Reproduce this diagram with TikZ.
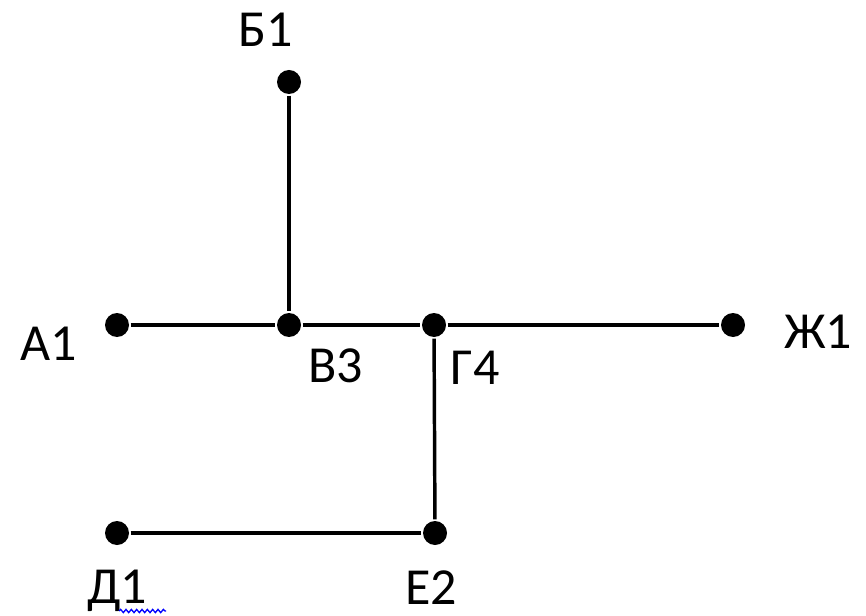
\documentclass[tikz,border=0pt]{standalone}
\usepackage{fontspec}
\setmainfont{Carlito}
\usetikzlibrary{decorations.pathmorphing}

\tikzset{
    pt/.style={circle, fill=black, inner sep=0pt, minimum size=18pt},
    lbl/.style={font=\fontsize{39}{46}\selectfont, inner sep=0pt}
}

\begin{document}
\begin{tikzpicture}[x=0.75pt, y=-0.75pt, line width=2.6pt]
    \useasboundingbox (0,0) rectangle (866,616);
    % vertices
    \node[pt] (a) at (117,325) {};
    \node[pt] (b) at (289,82) {};
    \node[pt] (v) at (289,325) {};
    \node[pt] (g) at (434,325) {};
    \node[pt] (zh) at (733,325) {};
    \node[pt] (d) at (117,533) {};
    \node[pt] (e) at (435,533) {};
    % edges
    \draw (a) -- (v);
    \draw (v) -- (g);
    \draw (g) -- (zh);
    \draw (b) -- (v);
    \draw (g) -- (e);
    \draw (d) -- (e);
    % labels
    \node[lbl] (la) at (49,344) {А1};
    \node[lbl] (lb) at (266,30) {Б1};
    \node[lbl] (lv) at (336,366) {В3};
    \node[lbl] (lg) at (475,368) {Г4};
    \node[lbl] (lzh) at (818,332) {Ж1};
    \node[lbl] (ld) at (117,591) {Д1};
    \node[lbl] (le) at (431,588) {Е2};
    \coordinate (sq1) at (119,611);
    \coordinate (sq2) at (166,611);
    \draw[blue, line width=1pt, decorate, decoration={snake, amplitude=1.2pt, segment length=4pt}] (sq1) -- (sq2);
\end{tikzpicture}
\end{document}
